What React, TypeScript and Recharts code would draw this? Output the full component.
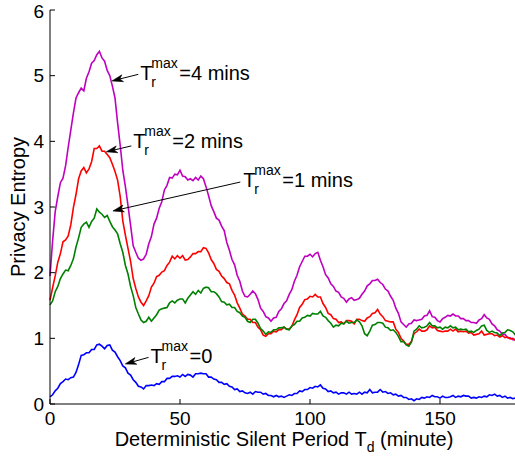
import { LineChart, Line, XAxis, YAxis, ReferenceLine, Label } from "recharts"

const FONT = "'Liberation Sans', Arial, Helvetica, sans-serif"

// minutes 0..180, one sample per minute
const minutes = Array.from({ length: 181 }, (_, i) => i)

const xTicks = [0, 50, 100, 150]
const yTicks = [0, 1, 2, 3, 4, 5, 6]

// Tr max = 4 mins
const tr4 = [
  1.95, 2.48, 2.93, 3.16, 3.37, 3.44, 3.63, 3.91, 4.17, 4.43,
  4.66, 4.74, 4.81, 4.77, 4.96, 5.06, 5.19, 5.23, 5.32, 5.37,
  5.27, 5.22, 5.08, 5.0, 4.84, 4.66, 4.28, 3.94, 3.56, 3.31,
  3.02, 2.72, 2.41, 2.31, 2.22, 2.19, 2.21, 2.28, 2.44, 2.55,
  2.74, 2.83, 2.98, 3.08, 3.26, 3.33, 3.45, 3.44, 3.5, 3.49,
  3.56, 3.47, 3.46, 3.41, 3.43, 3.4, 3.45, 3.41, 3.47, 3.43,
  3.31, 3.17, 3.02, 2.93, 2.83, 2.8, 2.71, 2.64, 2.46, 2.34,
  2.2, 2.12, 1.96, 1.87, 1.72, 1.64, 1.63, 1.67, 1.72, 1.68,
  1.59, 1.46, 1.41, 1.33, 1.31, 1.26, 1.31, 1.32, 1.41, 1.45,
  1.53, 1.57, 1.67, 1.74, 1.87, 1.96, 2.09, 2.17, 2.25, 2.25,
  2.28, 2.24, 2.29, 2.31, 2.19, 2.09, 1.97, 1.92, 1.83, 1.79,
  1.72, 1.7, 1.63, 1.61, 1.55, 1.6, 1.62, 1.58, 1.59, 1.61,
  1.67, 1.72, 1.8, 1.83, 1.88, 1.88, 1.9, 1.85, 1.82, 1.75,
  1.72, 1.64, 1.58, 1.46, 1.38, 1.25, 1.21, 1.17, 1.22, 1.23,
  1.28, 1.27, 1.28, 1.29, 1.34, 1.35, 1.42, 1.33, 1.32, 1.27,
  1.25, 1.3, 1.32, 1.35, 1.34, 1.37, 1.34, 1.34, 1.3, 1.3,
  1.27, 1.27, 1.24, 1.24, 1.23, 1.28, 1.3, 1.36, 1.31, 1.29,
  1.22, 1.19, 1.13, 1.11, 1.06, 1.06, 1.01, 1.01, 0.98, 0.98,
  0.96,
]

// Tr max = 2 mins
const tr2 = [
  1.58, 1.77, 1.95, 2.16, 2.29, 2.47, 2.5, 2.56, 2.73, 2.99,
  3.19, 3.43, 3.55, 3.6, 3.52, 3.58, 3.69, 3.89, 3.89, 3.93,
  3.85, 3.85, 3.8, 3.75, 3.65, 3.54, 3.41, 3.16, 2.79, 2.57,
  2.37, 2.17, 1.91, 1.76, 1.63, 1.55, 1.5, 1.57, 1.65, 1.78,
  1.84, 1.94, 1.96, 2.01, 2.03, 2.11, 2.16, 2.25, 2.21, 2.26,
  2.22, 2.26, 2.19, 2.2, 2.24, 2.29, 2.29, 2.32, 2.32, 2.38,
  2.37, 2.3, 2.2, 2.14, 2.05, 2.02, 1.95, 1.91, 1.85, 1.83,
  1.73, 1.66, 1.54, 1.46, 1.37, 1.34, 1.29, 1.29, 1.24, 1.24,
  1.17, 1.13, 1.05, 1.03, 1.07, 1.07, 1.11, 1.1, 1.13, 1.13,
  1.17, 1.14, 1.14, 1.18, 1.28, 1.36, 1.47, 1.52, 1.59, 1.6,
  1.64, 1.63, 1.67, 1.63, 1.63, 1.53, 1.47, 1.38, 1.36, 1.3,
  1.29, 1.24, 1.25, 1.22, 1.27, 1.27, 1.26, 1.22, 1.29, 1.29,
  1.27, 1.26, 1.31, 1.33, 1.38, 1.39, 1.44, 1.37, 1.33, 1.27,
  1.26, 1.25, 1.25, 1.14, 1.09, 1.0, 0.96, 0.91, 0.91, 0.95,
  1.07, 1.1, 1.14, 1.11, 1.11, 1.13, 1.19, 1.16, 1.17, 1.12,
  1.11, 1.1, 1.11, 1.11, 1.14, 1.11, 1.14, 1.1, 1.11, 1.1,
  1.11, 1.08, 1.09, 1.05, 1.06, 1.07, 1.11, 1.05, 1.06, 1.07,
  1.07, 1.04, 1.05, 1.02, 1.04, 1.01, 1.02, 0.99, 1.0, 0.97,
  0.96,
]

// Tr max = 1 mins
const tr1 = [
  1.51, 1.57, 1.71, 1.79, 1.91, 1.98, 2.04, 2.03, 2.11, 2.21,
  2.39, 2.53, 2.69, 2.74, 2.77, 2.69, 2.78, 2.83, 2.97, 2.92,
  2.89, 2.84, 2.87, 2.78, 2.7, 2.65, 2.59, 2.44, 2.31, 2.11,
  1.98, 1.79, 1.65, 1.47, 1.37, 1.28, 1.24, 1.26, 1.32, 1.26,
  1.31, 1.36, 1.43, 1.45, 1.46, 1.47, 1.54, 1.57, 1.54, 1.58,
  1.6, 1.6, 1.54, 1.61, 1.66, 1.71, 1.67, 1.73, 1.69, 1.76,
  1.78, 1.77, 1.71, 1.71, 1.68, 1.63, 1.56, 1.55, 1.51, 1.52,
  1.47, 1.47, 1.41, 1.39, 1.34, 1.32, 1.26, 1.24, 1.29, 1.29,
  1.23, 1.15, 1.11, 1.06, 1.1, 1.09, 1.13, 1.13, 1.16, 1.16,
  1.17, 1.14, 1.13, 1.19, 1.21, 1.26, 1.26, 1.31, 1.32, 1.35,
  1.34, 1.38, 1.37, 1.37, 1.41, 1.34, 1.32, 1.27, 1.23, 1.17,
  1.2, 1.19, 1.23, 1.22, 1.26, 1.23, 1.24, 1.24, 1.28, 1.25,
  1.19, 1.07, 1.04, 1.11, 1.2, 1.21, 1.24, 1.24, 1.23, 1.17,
  1.16, 1.12, 1.13, 1.09, 1.03, 0.95, 0.95, 0.9, 0.88, 0.94,
  1.11, 1.14, 1.19, 1.16, 1.17, 1.19, 1.24, 1.19, 1.19, 1.16,
  1.17, 1.14, 1.17, 1.16, 1.19, 1.16, 1.17, 1.13, 1.14, 1.13,
  1.14, 1.1, 1.11, 1.09, 1.12, 1.14, 1.19, 1.2, 1.12, 1.09,
  1.11, 1.09, 1.08, 1.04, 1.08, 1.09, 1.13, 1.12, 1.1, 1.05,
  1.04,
]

// Tr max = 0
const tr0 = [
  0.11, 0.14, 0.2, 0.24, 0.31, 0.34, 0.38, 0.37, 0.4, 0.41,
  0.48, 0.6, 0.74, 0.75, 0.78, 0.78, 0.83, 0.83, 0.9, 0.91,
  0.88, 0.84, 0.89, 0.9, 0.82, 0.79, 0.72, 0.66, 0.58, 0.55,
  0.47, 0.44, 0.37, 0.33, 0.27, 0.26, 0.23, 0.28, 0.28, 0.29,
  0.28, 0.31, 0.3, 0.34, 0.34, 0.39, 0.39, 0.42, 0.42, 0.43,
  0.41, 0.45, 0.42, 0.45, 0.44, 0.41, 0.46, 0.46, 0.47, 0.46,
  0.46, 0.41, 0.41, 0.38, 0.37, 0.33, 0.33, 0.3, 0.31, 0.27,
  0.26, 0.22, 0.23, 0.19, 0.2, 0.17, 0.16, 0.18, 0.15, 0.19,
  0.18, 0.18, 0.15, 0.16, 0.13, 0.13, 0.11, 0.13, 0.11, 0.12,
  0.1, 0.12, 0.14, 0.13, 0.16, 0.16, 0.2, 0.19, 0.22, 0.22,
  0.25, 0.24, 0.27, 0.26, 0.29, 0.24, 0.23, 0.19, 0.2, 0.17,
  0.18, 0.15, 0.17, 0.17, 0.15, 0.18, 0.15, 0.16, 0.15, 0.18,
  0.15, 0.18, 0.17, 0.22, 0.17, 0.18, 0.18, 0.22, 0.18, 0.19,
  0.16, 0.17, 0.14, 0.15, 0.12, 0.13, 0.1, 0.1, 0.07, 0.08,
  0.05, 0.08, 0.07, 0.1, 0.09, 0.11, 0.1, 0.13, 0.11, 0.11,
  0.09, 0.12, 0.1, 0.1, 0.11, 0.13, 0.1, 0.12, 0.11, 0.13,
  0.12, 0.12, 0.09, 0.1, 0.09, 0.11, 0.1, 0.12, 0.11, 0.14,
  0.13, 0.15, 0.12, 0.13, 0.1, 0.12, 0.09, 0.1, 0.08, 0.09,
  0.09,
]

// text label, arrow start (near the text) and arrow tip, in data units
const annotations = [
  { text: "=4 mins", from: { x: 33.96, y: 5.02 }, to: { x: 23.85, y: 4.92 }, dx: 2, dy: 6 },
  { text: "=2 mins", from: { x: 31.27, y: 3.93 }, to: { x: 21.65, y: 3.84 }, dx: 2, dy: 2 },
  { text: "=1 mins", from: { x: 73.2, y: 3.38 }, to: { x: 24.2, y: 2.94 }, dx: 3, dy: 5 },
  { text: "=0", from: { x: 37.9, y: 0.71 }, to: { x: 28.96, y: 0.61 }, dx: 2, dy: 6 },
]

const data = minutes.map((t, i) => ({ t, tr4: tr4[i], tr2: tr2[i], tr1: tr1[i], tr0: tr0[i] }))

const arrowShape = (text: string, dx: number, dy: number) => (props: any) => {
  const { x1, y1, x2, y2 } = props
  const ang = Math.atan2(y2 - y1, x2 - x1)
  const len = 11
  const half = 3.5
  const bx = x2 - len * Math.cos(ang)
  const by = y2 - len * Math.sin(ang)
  const nx = x2 - 8 * Math.cos(ang)
  const ny = y2 - 8 * Math.sin(ang)
  const px = -Math.sin(ang) * half
  const py = Math.cos(ang) * half
  const tx = x1 + dx
  const ty = y1 + dy
  return (
    <g>
      <line x1={x1} y1={y1} x2={nx} y2={ny} stroke="#000" strokeWidth={1} />
      <polygon
        points={`${x2},${y2} ${bx + px},${by + py} ${nx},${ny} ${bx - px},${by - py}`}
        fill="#000"
        stroke="#000"
        strokeWidth={0.6}
      />
      <text fontFamily={FONT} fill="#000">
        <tspan x={tx} y={ty} fontSize={20}>T</tspan>
        <tspan x={tx + 11} y={ty - 12} fontSize={14}>max</tspan>
        <tspan x={tx + 11} y={ty + 7} fontSize={14}>r</tspan>
        <tspan x={tx + 39} y={ty} fontSize={20}>{text}</tspan>
      </text>
    </g>
  )
}

export default function App() {
  return (
    <div style={{ position: "absolute", left: 0, top: 0, width: 515, height: 459, overflow: "hidden", background: "#fff" }}>
      <LineChart width={530} height={459} data={data} margin={{ top: 10, right: 12, bottom: 0, left: 0 }}>
        <XAxis
          dataKey="t"
          type="number"
          domain={[0, 180]}
          ticks={xTicks}
          height={55}
          stroke="#000"
          tickSize={-5}
          tickMargin={13}
          tick={{ fill: "#000", fontSize: 19, fontFamily: FONT }}
        >
          <Label
            content={({ viewBox }: any) => (
              <text
                x={viewBox.x + viewBox.width / 2}
                y={viewBox.y + 42}
                textAnchor="middle"
                fontFamily={FONT}
                fontSize={20}
                fill="#000"
              >
                Deterministic Silent Period T
                <tspan dy={6} fontSize={14}>d</tspan>
                <tspan dy={-6}> (minute)</tspan>
              </text>
            )}
          />
        </XAxis>
        <XAxis
          xAxisId="top"
          orientation="top"
          type="number"
          domain={[0, 180]}
          ticks={xTicks}
          height={0}
          stroke="#000"
          tickSize={-5}
          tickFormatter={() => ""}
        />
        <YAxis
          type="number"
          domain={[0, 6]}
          ticks={yTicks}
          width={50}
          stroke="#000"
          tickSize={-5}
          tickMargin={11}
          tick={{ fill: "#000", fontSize: 19, fontFamily: FONT }}
        >
          <Label
            content={({ viewBox }: any) => {
              const cx = 25
              const cy = viewBox.y + viewBox.height / 2
              return (
                <text
                  x={cx}
                  y={cy}
                  transform={`rotate(-90, ${cx}, ${cy})`}
                  textAnchor="middle"
                  fontFamily={FONT}
                  fontSize={20}
                  fill="#000"
                >
                  Privacy Entropy
                </text>
              )
            }}
          />
        </YAxis>
        <YAxis
          yAxisId="right"
          orientation="right"
          type="number"
          domain={[0, 6]}
          ticks={yTicks}
          width={0}
          stroke="#000"
          tickSize={-5}
          tickFormatter={() => ""}
        />
        <Line dataKey="tr4" stroke="#bf00bf" strokeWidth={1.6} dot={false} isAnimationActive={false} />
        <Line dataKey="tr2" stroke="#ff0000" strokeWidth={1.6} dot={false} isAnimationActive={false} />
        <Line dataKey="tr1" stroke="#008000" strokeWidth={1.6} dot={false} isAnimationActive={false} />
        <Line dataKey="tr0" stroke="#0000ff" strokeWidth={1.6} dot={false} isAnimationActive={false} />
        {annotations.map((a) => (
          <ReferenceLine
            key={a.text}
            segment={[a.from, a.to]}
            ifOverflow="visible"
            shape={arrowShape(a.text, a.dx, a.dy)}
          />
        ))}
      </LineChart>
    </div>
  )
}
